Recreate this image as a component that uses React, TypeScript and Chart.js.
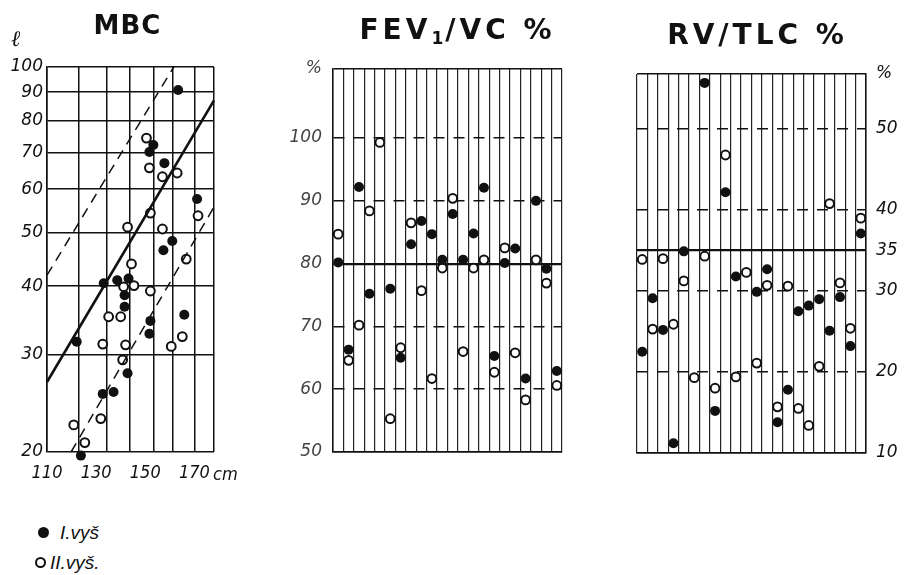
import React, { useEffect, useRef } from "react";
import { Chart, registerables } from "chart.js";

Chart.register(...registerables);

// ---------- MBC panel (x: body height cm, y: MBC litres, log scale) ----------
const mbcFilledX = [163.4, 153.3, 151.7, 157.8, 171.1, 161.0, 157.4, 133.1, 138.6, 143.2, 141.6, 141.6, 122.1, 152.1, 151.7, 165.9, 142.8, 132.7, 137.1, 123.8];
const mbcFilledY = [90.8, 72.2, 70.1, 66.9, 57.6, 48.3, 46.5, 40.5, 41.0, 41.3, 38.5, 36.7, 31.7, 34.6, 32.8, 35.5, 27.8, 25.5, 25.7, 19.7];
const mbcOpenX = [150.5, 151.7, 157.0, 163.0, 152.1, 142.8, 157.0, 171.5, 144.4, 166.7, 141.2, 145.4, 152.1, 135.1, 140.0, 132.7, 142.0, 140.8, 160.6, 165.1, 131.9, 120.9, 125.4];
const mbcOpenY = [74.3, 65.6, 63.2, 64.2, 54.3, 51.2, 50.8, 53.7, 43.9, 44.8, 39.9, 40.1, 39.2, 35.2, 35.2, 31.4, 31.3, 29.4, 31.1, 32.4, 23.0, 22.4, 20.8];
const mbcMeanX = [110, 178];
const mbcMeanY = [26.8, 87.0];
const mbcUpperX = [110, 161.6];
const mbcUpperY = [41.9, 100];
const mbcLowerX = [119.8, 178];
const mbcLowerY = [20, 55.7];
const mbcYTicks = [20, 30, 40, 50, 60, 70, 80, 90, 100];
const mbcXGrid = [110, 123, 134.3, 143.6, 153.3, 161.4, 170.3, 178];
const mbcXLabels = [110, 130, 150, 170];

// ---------- FEV1/VC % panel (one column per subject) ----------
const subjects = ["1", "2", "3", "4", "5", "6", "7", "8", "9", "10", "11", "12", "13", "14", "15", "16", "17", "18", "19", "20", "21", "22"];
const fevFilled = [80.2, 66.3, 92.2, 75.2, null, 76.0, 65.0, 83.1, 86.8, 84.7, 80.6, 87.9, 80.6, 84.8, 92.1, 65.3, 80.1, 82.4, 61.7, 90.0, 79.2, 62.9];
const fevOpen = [84.7, 64.6, 70.2, 88.4, 99.3, 55.3, 66.6, 86.5, 75.7, 61.7, 79.3, 90.4, 66.0, 79.3, 80.6, 62.7, 82.5, 65.8, 58.3, 80.6, 76.9, 60.6];
const fevTicks = [50, 60, 70, 80, 90, 100, 111];
const fevDashed = [60, 70, 90, 100];
const fevBold = [80];

// ---------- RV/TLC % panel ----------
const rvFilled = [22.5, 29.1, 25.2, 11.2, 34.9, null, 55.7, 15.2, 42.2, 31.8, null, 29.9, 32.7, 13.8, 17.8, 27.5, 28.2, 29.0, 25.1, 29.25, 23.2, 37.1];
const rvOpen = [33.9, 25.3, 34.0, 25.9, 31.25, 19.3, 34.3, 18.0, 46.8, 19.4, 32.3, 21.1, 30.7, 15.7, 30.6, 15.5, 13.4, 20.7, 40.8, 31.0, 25.4, 39.0];
const rvTicks = [10, 20, 30, 35, 40, 50, 56.8];
const rvDashed = [20, 30, 40, 50];
const rvBold = [35];

const INK = "#111";
const yFont = { family: "'DejaVu Sans', sans-serif", size: 17, style: "italic" as const };
const xFont = { family: "'DejaVu Sans Condensed', 'Liberation Sans', sans-serif", size: 18, style: "italic" as const };

const setTicks = (values: number[]) => (scale: any) => {
  scale.ticks = values.map((v) => ({ value: v }));
};
const pts = (xs: number[], ys: number[]) => xs.map((x, i) => ({ x, y: ys[i] }));

const filledStyle = {
  pointRadius: 5,
  pointBackgroundColor: INK,
  pointBorderColor: INK,
  pointBorderWidth: 0,
  backgroundColor: INK,
  borderColor: INK,
  showLine: false,
  clip: false as const,
};
const openStyle = {
  pointRadius: 4.4,
  pointBackgroundColor: "#fff",
  pointBorderColor: INK,
  pointBorderWidth: 2,
  backgroundColor: "#fff",
  borderColor: INK,
  showLine: false,
  clip: false as const,
};

const baseOptions = {
  animation: false as const,
  responsive: false,
  events: [] as any[],
  plugins: { legend: { display: false }, tooltip: { enabled: false } },
};

const mbcConfig: any = {
  type: "scatter",
  data: {
    datasets: [
      { data: pts(mbcMeanX, mbcMeanY), showLine: true, borderColor: INK, borderWidth: 2.6, pointRadius: 0, clip: false },
      { data: pts(mbcUpperX, mbcUpperY), showLine: true, borderColor: INK, borderWidth: 1.5, borderDash: [10, 7], pointRadius: 0, clip: false },
      { data: pts(mbcLowerX, mbcLowerY), showLine: true, borderColor: INK, borderWidth: 1.5, borderDash: [10, 7], pointRadius: 0, clip: false },
      { data: pts(mbcFilledX, mbcFilledY), ...filledStyle },
      { data: pts(mbcOpenX, mbcOpenY), ...openStyle },
    ],
  },
  options: {
    ...baseOptions,
    layout: { padding: { left: 0, top: 67, right: 36, bottom: 0 } },
    scales: {
      x: {
        type: "linear",
        position: "bottom",
        min: 110,
        max: 178,
        afterBuildTicks: setTicks(mbcXGrid),
        ticks: { display: false },
        grid: { color: INK, lineWidth: 1.5, drawTicks: false },
        border: { display: false },
        afterFit: (s: any) => {
          s.height = 0;
        },
      },
      x2: {
        type: "linear",
        position: "bottom",
        min: 110,
        max: 178,
        afterBuildTicks: setTicks(mbcXLabels),
        ticks: { font: xFont, color: INK, padding: 11, maxRotation: 0, callback: (v: any) => String(v) },
        grid: { display: false, drawTicks: false },
        border: { display: false },
        afterFit: (s: any) => {
          s.height = 38;
        },
      },
      y: {
        type: "logarithmic",
        min: 20,
        max: 100,
        afterBuildTicks: setTicks(mbcYTicks),
        ticks: { font: yFont, color: INK, padding: 4, callback: (v: any) => String(v) },
        grid: { color: INK, lineWidth: 1.5, drawTicks: false },
        border: { display: true, color: INK, width: 1.5 },
        afterFit: (s: any) => {
          s.width = 47;
        },
      },
    },
  },
};

const columnConfig = (
  filled: (number | null)[],
  open: number[],
  min: number,
  max: number,
  ticks: number[],
  dashed: number[],
  bold: number[],
  side: "left" | "right",
  padding: any,
  axisWidth: number,
  labelColor: string,
  labelPad: number
): any => ({
  type: "line",
  data: {
    labels: subjects,
    datasets: [
      { data: filled, ...filledStyle },
      { data: open, ...openStyle },
    ],
  },
  options: {
    ...baseOptions,
    layout: { padding },
    scales: {
      x: {
        type: "category",
        offset: true,
        ticks: { display: false },
        grid: { offset: true, color: "#222", lineWidth: 1.2, drawTicks: false },
        border: { display: true, color: INK, width: 1.5 },
        afterFit: (s: any) => {
          s.height = 0;
        },
      },
      y: {
        type: "linear",
        position: side,
        min,
        max,
        afterBuildTicks: setTicks(ticks),
        ticks: {
          font: yFont,
          color: labelColor,
          padding: labelPad,
          callback: (v: any) => (v === max ? "%" : String(v)),
        },
        grid: {
          color: INK,
          lineWidth: (ctx: any) => (ctx.tick && bold.includes(ctx.tick.value) ? 2.2 : 1.5),
          drawTicks: false,
        },
        border: {
          display: true,
          color: INK,
          width: 1.5,
          dash: (ctx: any) => (ctx.tick && dashed.includes(ctx.tick.value) ? [11, 9] : []),
        },
        afterFit: (s: any) => {
          s.width = axisWidth;
        },
      },
    },
  },
});

const fevConfig = columnConfig(fevFilled, fevOpen, 50, 111, fevTicks, fevDashed, fevBold, "left", { left: 0, top: 69, right: 18, bottom: 38 }, 53, "#444", 11);
const rvConfig = columnConfig(rvFilled, rvOpen, 10, 56.8, rvTicks, rvDashed, rvBold, "right", { left: 27, top: 74, right: 0, bottom: 37 }, 40, INK, 10);

function ChartBox({ config, left, top, width, height }: { config: any; left: number; top: number; width: number; height: number }) {
  const ref = useRef<HTMLCanvasElement>(null);
  useEffect(() => {
    const chart = new Chart(ref.current as HTMLCanvasElement, config);
    return () => chart.destroy();
  }, [config]);
  return (
    <div style={{ position: "absolute", left, top, width, height }}>
      <canvas ref={ref} width={width} height={height} style={{ display: "block", width, height }} />
    </div>
  );
}

const titleStyle: React.CSSProperties = {
  position: "absolute",
  fontFamily: "'DejaVu Sans', sans-serif",
  fontWeight: "bold",
  color: INK,
  textAlign: "center",
  whiteSpace: "nowrap",
  lineHeight: 1,
};
const italic: React.CSSProperties = {
  position: "absolute",
  fontFamily: "'Liberation Sans', sans-serif",
  fontStyle: "italic",
  color: INK,
  whiteSpace: "nowrap",
  lineHeight: 1,
};

export default function App() {
  return (
    <div style={{ position: "fixed", left: 0, top: 0, width: 906, height: 575, background: "#fff", overflow: "hidden" }}>
      <ChartBox config={mbcConfig} left={0} top={0} width={250} height={490} />
      <ChartBox config={fevConfig} left={280} top={0} width={300} height={490} />
      <ChartBox config={rvConfig} left={610} top={0} width={296} height={490} />

      <div style={{ ...titleStyle, left: 70, top: 12, width: 115, fontSize: 26, letterSpacing: 1 }}>MBC</div>
      <div style={{ ...titleStyle, left: 340, top: 16, width: 235, fontSize: 28, letterSpacing: 4 }}>
        FEV<sub style={{ fontSize: 17, verticalAlign: "-5px", letterSpacing: 2 }}>1</sub>/VC %
      </div>
      <div style={{ ...titleStyle, left: 650, top: 21, width: 215, fontSize: 28, letterSpacing: 4 }}>RV/TLC %</div>

      <div style={{ ...italic, left: 11, top: 28, fontSize: 22, fontFamily: "'DejaVu Serif', serif" }}>ℓ</div>
      <div style={{ ...italic, left: 213, top: 465, fontSize: 18, fontFamily: "'DejaVu Sans Condensed', 'Liberation Sans', sans-serif" }}>cm</div>

      <div style={{ position: "absolute", left: 38, top: 527, width: 11, height: 11, borderRadius: "50%", background: INK }} />
      <div style={{ ...italic, left: 60, top: 523, fontSize: 19 }}>I.vyš</div>
      <div style={{ position: "absolute", left: 35, top: 557, width: 11, height: 11, borderRadius: "50%", border: `2px solid ${INK}`, boxSizing: "border-box" }} />
      <div style={{ ...italic, left: 50, top: 553, fontSize: 19 }}>II.vyš.</div>
    </div>
  );
}
